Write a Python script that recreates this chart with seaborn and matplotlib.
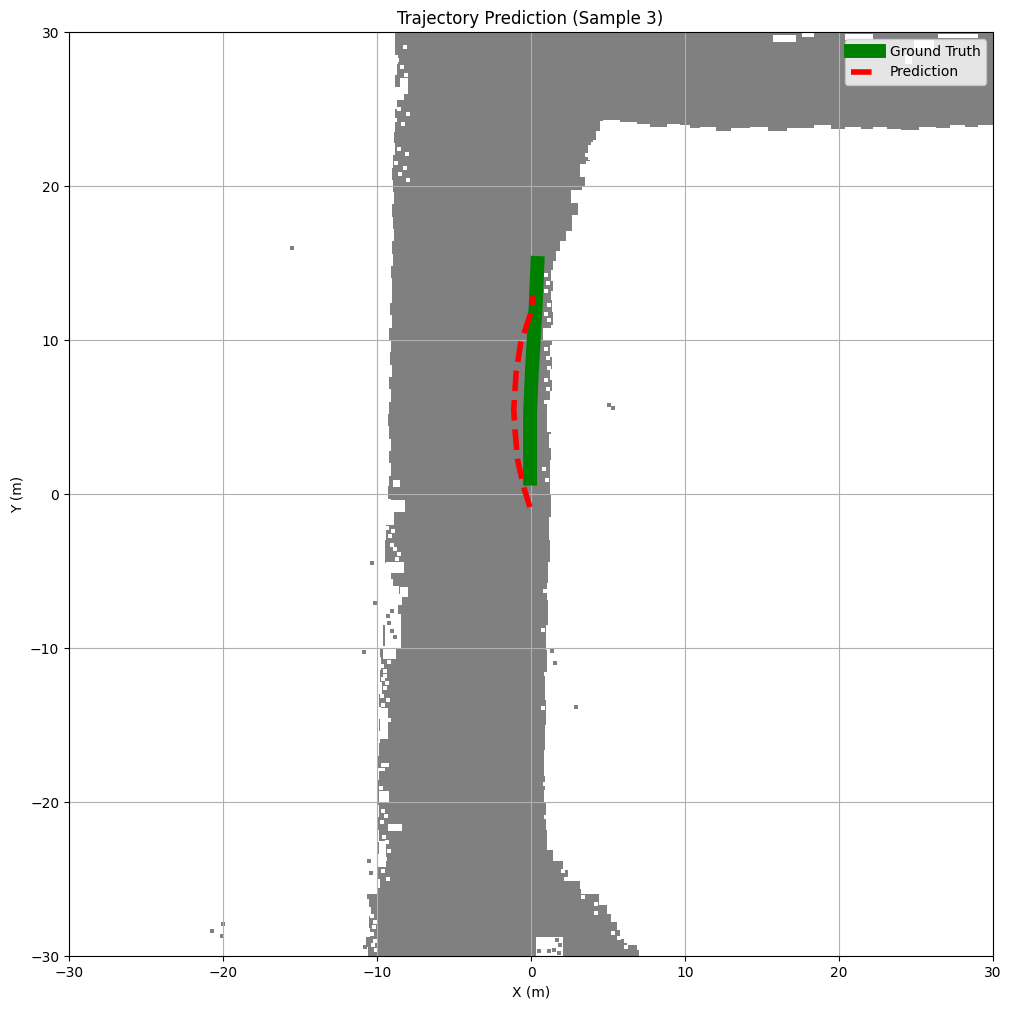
import numpy as np
import matplotlib
matplotlib.use("Agg")
import matplotlib.pyplot as plt
import seaborn as sns

# === Drivable area outline (metres)
left_y = [-30, -29.4, -28.8, -28.2, -27.4, -26.8, -26.3, -26, -25.6, -25, -24.2, -23.4, -22.6, -21.8, -21, -20.2, -19.4,
          -18.6, -17.8, -17, -16.2, -15.4, -14.6, -13.8, -13, -12.2, -11.4, -10.6, -10, -9.2, -8.5, -7.8, -7.2, -6.5, -6,
          -5.5, -5, -4.5, -3.8, -3, -2.4, -2, -1.4, -1, -0.3, 0.5, 1.2, 2, 2.8, 3.6, 4.4, 5.2, 6, 6.8, 7.6, 8.4, 9.2, 10, 10.8,
          11.6, 12.4, 13.2, 14, 14.8, 15.6, 16.4, 17.2, 18, 18.8, 19.6, 20.4, 21.2, 22, 22.8, 23.5, 24.3, 25, 25.8, 26.5, 27.2,
          27.9, 28.5, 29.2, 30]
left_x = [-10.84, -10.6, -10.7, -10.45, -10.5, -10.4, -10.55, -10.65, -9.93, -9.8, -9.95, -9.85, -10.0, -9.9, -9.95, -9.85,
          -9.93, -10.0, -9.9, -9.95, -9.85, -9.8, -9.9, -9.75, -9.85, -9.7, -9.8, -9.75, -9.8, -9.6, -9.6, -8.75, -8.65, -8.4, -8.6,
          -8.96, -9.1, -9.42, -9.5, -9.48, -9.4, -9.42, -9.2, -9.2, -9.1, -9.29, -9.2, -9.09, -9.2, -9.1, -9.2, -9.3, -9.22, -9.1,
          -9.2, -9.05, -9.15, -9.09, -9.2, -9.05, -9.15, -9.0, -9.03, -9.1, -8.95, -9.05, -8.9, -8.96, -9.05, -8.9, -8.96, -9.05,
          -8.96, -8.85, -8.9, -8.8, -8.83, -8.7, -8.8, -8.85, -8.7, -8.64, -8.8, -8.83]

band_x = [30, 30, 29, 28.2, 27.2, 26.3, 25.2, 24, 23.1, 22.2, 21.4, 20.4, 19.5, 18.4, 17.5, 16.6, 15.4, 14.2, 13, 12, 11, 10.3,
          9.7, 8.8, 7.7, 6.9, 5.8, 4.7]
band_y = [30, 23.95, 23.8, 23.95, 23.75, 23.85, 23.65, 23.7, 23.85, 23.7, 23.85, 23.7, 23.95, 23.75, 23.75, 23.6, 23.8, 23.75,
          23.6, 23.8, 23.75, 23.95, 24.0, 23.85, 24.0, 24.15, 24.3, 24.2]

right_x = [4.5, 4.2, 4.0, 3.8, 3.6, 3.5, 3.3, 3.05, 2.65, 2.3, 1.9, 1.6, 1.45, 1.3, 1.42, 1.28, 1.36, 1.45, 1.3, 1.38, 1.25,
           1.34, 1.22, 1.36, 1.25, 1.38, 1.3, 1.2, 1.3, 1.23, 1.3, 1.17, 1.25, 1.1, 1.04, 1.12, 0.97, 1.05, 0.9, 0.98, 0.9, 0.82,
           0.9, 0.84, 0.97, 1.04, 1.43, 2.08, 2.4, 3.2, 3.25, 4.03, 4.4, 4.94, 5.2, 5.58, 5.75, 6.23, 6.88, 7]
right_y = [23.6, 23.0, 22.3, 21.6, 21, 20, 19.1, 18.1, 17.1, 16.4, 15.8, 15.1, 14.55, 13.8, 13.2, 12.6, 11.8, 11, 10.3, 9.7, 8.9,
           8.1, 7.4, 6.7, 5.9, 4.8, 3.9, 3.0, 2.2, 0, -1.5, -3, -4.4, -5.8, -6.9, -8.5, -10.1, -11.7, -13.4, -15, -16.6, -18.3,
           -19.2, -20, -21.8, -23.1, -23.8, -24.4, -25.1, -25.4, -26, -26, -26.7, -27.3, -27.8, -28.3, -28.9, -29.3, -29.6, -30]

# === White gaps in the map (left, bottom, width, height)
gap_x = [-8.85, -8.5, -9.4, -8.95, -9.4, -9.4, -9.6, -8.5, -9.45, -9.8, -9.75, -9.3, -9.9, -9.9, -9.9, -9.8,
         0.3, 0.8, 1.05, 3.7, 3.2, 2.6,
         15.7, 17.6, 20.4, 24.9, 24.3, 26.4]
gap_b = [25.6, 26.0, -1.15, 0.45, -2.0, -5.1, -10.7, -6.7, -10, -15.9, -17.7, -21.9, -20.0, -24.2, -18.0, -22.8,
         -30, 10.0, 4.0, 21.7, 20.6, 18.9,
         29.35, 29.65, 29.5, 28.8, 27.9, 29.6]
gap_w = [0.6, 0.5, 1.2, 0.45, 0.5, 1.15, 0.85, 0.5, 1.0, 0.5, 0.5, 0.95, 0.65, 0.5, 0.4, 0.35,
         1.75, 0.55, 0.3, 0.55, 0.5, 0.7,
         1.5, 0.8, 1.8, 1.3, 0.45, 2.6]
gap_h = [0.8, 1.0, 0.75, 0.45, 0.85, 0.7, 0.85, 0.65, 2.2, 2.0, 0.2, 0.5, 0.7, 1.7, 0.2, 0.2,
         1.25, 0.8, 2.1, 0.95, 0.85, 0.85,
         0.45, 0.3, 0.35, 0.65, 0.6, 0.25]

# === Single stray cells
white_x = [-8.2, -8.7, -8.4, -8.1, -8.6, -8.0, -8.8, -8.3, -8.55, -8.05, -8.75, -8.2, -8.5, -8.0,
           -9.0, -8.85, -9.1, -8.9, -8.7, -8.6, -9.2, -9.0, -8.95, -9.15, -9.35, -9.05, -8.85, -9.25,
           -9.7, -9.5, -9.6, -9.35, -9.45, -9.65, -9.3, -9.55, -9.75, -9.2, -9.4, -9.5, -9.6,
           -9.75, -9.5, -9.35, -9.6, -9.4, -9.7, -9.55, -9.35, -9.2, -9.5, -9.6, -9.3,
           -10.3, -10.1, -10.2, -10.3, -10.1, -10.25, -10.05,
           0.95, 1.1, 0.95, 1.2, 1.0, 1.15, 1.0, 1.1, 1.2, 0.95, 1.1, 1.0, 0.85, 1.05,
           2.1, 2.3, 3.3, 3.35, 4.2, 4.25, 5.3, 5.7, 6.15, 6.2,
           0.9, 0.8, 0.95, 0.75, 0.9, 1.0, 4.0, 3.65, 3.9, 3.4]
white_y = [29.0, 28.2, 27.7, 27.2, 25.0, 24.7, 24.3, 24.0, 22.4, 22.1, 21.5, 21.2, 20.8, 20.4,
           -9.1, -9.5, -8.0, -8.3, -4.2, -3.9, -1.6, -1.3, -2.4, -2.7, -2.2, -3.3, -3.6, -10.9,
           -11.2, -11.5, -12.0, -12.3, -12.6, -13.1, -13.4, -14.0, -14.3, -14.7, -15.1, -11.8, -13.7,
           -19.1, -19.4, -19.7, -20.6, -20.9, -21.3, -22.3, -22.6, -23.2, -23.7, -24.5, -25.0,
           -27.4, -27.8, -28.1, -28.6, -29.0, -29.3, -29.6,
           14.2, 13.7, 13.2, 12.3, 11.7, 11.3, 9.4, 8.8, 8.2, 7.4, 6.8, 6.0, 1.6, 0.9,
           -24.5, -25.0, -25.5, -26.2, -26.6, -27.2, -28.5, -28.8, -29.0, -29.4,
           -6.3, -8.8, -11.7, -13.9, -18.8, -21.0, 22.7, 22.0, 19.6, 18.5]

gray_x = [-15.55, 5.05, 5.3, -20.7, -20.0, -20.05, -10.85, -10.3, -10.1, 2.95, 1.35, 1.55, -10.55, -10.4, -10.6, -10.75,
          1.7, 1.9, 1.5, 0.5, 1.2, 1.85, -9.2, -9.0, -8.8, -9.3, -9.05]
gray_y = [16.0, 5.8, 5.6, -28.4, -27.95, -28.7, -10.25, -4.45, -7.1, -13.8, -10.2, -10.95, -23.8, -24.6, -28.9, -29.4,
          -28.95, -29.3, -29.6, -29.7, -29.65, -29.8, -8.4, -8.9, -9.3, -7.9, -7.6]

# === Trajectories
gt_x = [-0.06, -0.06, 0.05, 0.3, 0.42]
gt_y = [1.0, 5.25, 7.85, 12.15, 15.0]

pred_x = [-0.07, -0.45, -0.87, -1.04, -1.12, -0.97, -0.67, -0.06, 0.15]
pred_y = [-0.85, 0.37, 2.2, 4.15, 5.45, 7.85, 9.8, 11.6, 12.85]

fig = plt.figure(figsize=(10.11, 10.09), dpi=100)
ax = fig.add_axes([69 / 1011, 1 - 956 / 1009, 924 / 1011, 924 / 1009])

# === Map layer, edges drawn as stairs like the grid cells
outline_x = np.array(left_x + band_x + right_x)
outline_y = np.array(left_y + band_y + right_y)
stair_x = np.repeat(outline_x, 2)[1:]
stair_y = np.repeat(outline_y, 2)[:-1]
ax.fill(stair_x, stair_y, color="gray", lw=0, antialiased=False, zorder=1)
ax.bar(gap_x, gap_h, width=gap_w, bottom=gap_b, align="edge", color="white", lw=0, antialiased=False, zorder=1.1)
sns.scatterplot(x=white_x, y=white_y, marker="s", s=5, color="white", linewidth=0, legend=False, zorder=1.2, ax=ax)
sns.scatterplot(x=gray_x, y=gray_y, marker="s", s=5, color="gray", linewidth=0, legend=False, zorder=1.2, ax=ax)

# === Trajectories
sns.lineplot(x=gt_x, y=gt_y, sort=False, estimator=None, color="green", linewidth=10,
             solid_capstyle="projecting", label="Ground Truth", ax=ax)
sns.lineplot(x=pred_x, y=pred_y, sort=False, estimator=None, color="red", linewidth=4,
             linestyle="--", label="Prediction", ax=ax)

ax.set_xlim(-30, 30)
ax.set_ylim(-30, 30)
ax.grid(True)
ax.set_title("Trajectory Prediction (Sample 3)", x=0.499)
ax.set_xlabel("X (m)")
ax.set_ylabel("Y (m)")
ax.legend(loc="upper right")

plt.savefig("out.png", dpi=100)
